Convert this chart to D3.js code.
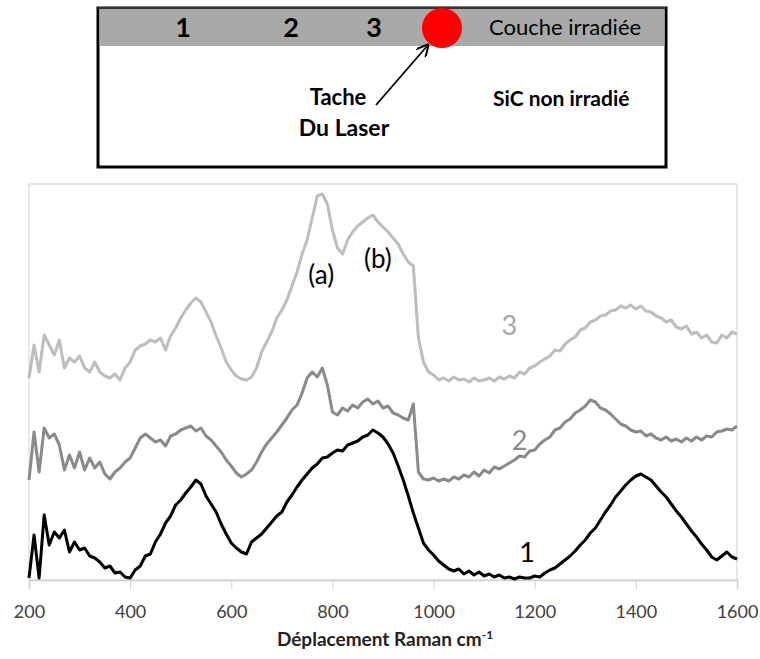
<!DOCTYPE html>
<html>
<head>
<meta charset="utf-8">
<script src="https://cdn.jsdelivr.net/npm/d3@7"></script>
<style>
  body { margin: 0; background: #fff; }
  svg { font-family: Lato, "Open Sans", sans-serif; }
</style>
</head>
<body>
<svg id="chart" width="760" height="659"></svg>
<script>
// Raman shift grid (cm-1), one point every 10 cm-1
const shift = d3.range(200, 1601, 10);
const xTicks = [200, 400, 600, 800, 1000, 1200, 1400, 1600];

// intensities (a.u., offset spectra as drawn)
const spec3 = [
  202,235,208,245,235,225,240,212,222,218,
  224,212,208,218,208,204,202,206,200,212,
  218,230,234,236,240,238,242,230,244,252,
  262,270,277,282,278,268,258,244,232,218,
  210,204,201,200,203,212,228,238,248,262,
  270,280,294,308,326,340,362,384,386,376,
  350,332,326,340,348,354,358,362,365,358,
  353,348,342,336,326,318,314,242,218,208,
  205,200,202,199,203,200,201,198,202,199,
  200,202,199,203,201,204,202,208,206,212,
  214,218,221,224,230,229,236,240,243,250,
  252,258,260,264,265,269,270,274,272,275,
  271,274,269,268,264,262,258,260,253,251,
  254,246,248,242,245,238,237,245,242,248,
  246
];
const spec2 = [
  100,148,108,152,142,146,135,110,125,112,
  128,110,122,112,118,106,101,108,112,118,
  122,132,142,146,142,138,140,134,144,146,
  150,152,154,149,152,144,140,134,128,120,
  114,107,103,106,110,118,128,136,142,148,
  155,162,170,175,187,202,208,203,212,195,
  168,165,172,169,175,172,178,181,176,179,
  172,174,167,165,162,160,176,108,101,100,
  102,99,101,99,103,101,105,103,108,104,
  110,107,113,111,114,117,120,124,123,129,
  130,136,140,143,150,152,158,161,167,170,
  174,180,178,172,170,166,161,156,154,150,
  148,149,144,146,142,140,143,139,141,138,
  142,139,143,140,144,143,148,149,151,150,
  154
];
const spec1 = [
  2,45,2,65,35,48,42,50,28,38,
  30,32,24,22,18,12,14,7,8,3,
  2,10,14,24,26,38,46,57,64,75,
  80,87,93,100,96,84,76,68,56,46,
  37,32,28,26,38,42,46,52,58,64,
  68,78,85,93,100,106,112,116,122,123,
  127,130,129,135,137,139,143,145,150,147,
  143,136,127,114,100,84,67,52,37,30,
  25,19,15,11,9,11,6,9,5,8,
  4,6,3,5,2,3,1,3,2,2,
  4,3,7,10,12,16,20,24,29,35,
  40,47,52,60,68,75,83,89,95,100,
  104,106,103,100,94,88,83,76,69,63,
  56,49,43,36,30,23,20,24,28,23,
  21
];

const series = [
  { name: "3", values: spec3, color: "#bdbdbd", label: [1150, 245], labelColor: "#a6a6a6" },
  { name: "2", values: spec2, color: "#8a8a8a", label: [1170, 130], labelColor: "#8a8a8a" },
  { name: "1", values: spec1, color: "#000000", label: [1185, 18], labelColor: "#000000" }
];
const peakLabels = [
  { text: "(a)", x: 778, y: 296 },
  { text: "(b)", x: 890, y: 312 }
];

const svg = d3.select("#chart");

// ---- schematic of the sample (top box)
const box = svg.append("g");
box.append("rect").attr("x", 98).attr("y", 8).attr("width", 568).attr("height", 159)
  .attr("fill", "#fff").attr("stroke", "#000").attr("stroke-width", 3);
box.append("rect").attr("x", 99.5).attr("y", 9).attr("width", 565).attr("height", 37)
  .attr("fill", "#a9a9a9");
box.append("line").attr("x1", 98).attr("x2", 666).attr("y1", 8).attr("y2", 8)
  .attr("stroke", "#333").attr("stroke-width", 2);

[["1", 183], ["2", 291], ["3", 374]].forEach(d => {
  box.append("text").attr("x", d[1]).attr("y", 37).attr("text-anchor", "middle")
    .style("font-size", "27px").style("font-weight", "bold").text(d[0]);
});
box.append("text").attr("x", 489).attr("y", 35).style("font-size", "22px").text("Couche irradiée");

box.append("circle").attr("cx", 442).attr("cy", 28).attr("r", 20).attr("fill", "#ff0000");

svg.append("defs").append("marker").attr("id", "arrow")
  .attr("viewBox", "0 0 10 10").attr("refX", 9).attr("refY", 5)
  .attr("markerWidth", 7).attr("markerHeight", 7).attr("orient", "auto")
  .append("path").attr("d", "M0,0 L10,5 L0,10").attr("fill", "none").attr("stroke", "#000").attr("stroke-width", 1.6);
box.append("line").attr("x1", 376).attr("y1", 105).attr("x2", 428).attr("y2", 45)
  .attr("stroke", "#000").attr("stroke-width", 1.8).attr("marker-end", "url(#arrow)");

box.append("text").attr("x", 338).attr("y", 105).attr("text-anchor", "middle")
  .style("font-size", "22px").style("font-weight", "bold").text("Tache");
box.append("text").attr("x", 344).attr("y", 136).attr("text-anchor", "middle")
  .style("font-size", "23px").style("font-weight", "bold").text("Du Laser");
box.append("text").attr("x", 493).attr("y", 106)
  .style("font-size", "21px").style("font-weight", "bold").text("SiC non irradié");

// ---- spectra
const margin = { left: 29, right: 23, top: 184, bottom: 79 };
const width = 760 - margin.left - margin.right,
      height = 659 - margin.top - margin.bottom;

const x = d3.scaleLinear().domain([200, 1600]).range([0, width]);
const y = d3.scaleLinear().domain([0, 396]).range([height, 0]);

const g = svg.append("g").attr("transform", `translate(${margin.left},${margin.top})`);

g.append("rect").attr("width", width).attr("height", height)
  .attr("fill", "none").attr("stroke", "#d9d9d9").attr("stroke-width", 1.2);

const xAxis = g.append("g").attr("transform", `translate(0,${height})`)
  .call(d3.axisBottom(x).tickValues(xTicks).tickSize(9).tickPadding(16).tickFormat(d3.format("d")));
xAxis.select(".domain").attr("stroke", "#cfcfcf").attr("stroke-width", 1.5);
xAxis.selectAll(".tick line").attr("stroke", "#cfcfcf");
xAxis.selectAll(".tick text").style("font-size", "18px").style("fill", "#404040")
  .style("font-family", "Lato, sans-serif");

const line = d3.line().x((d, i) => x(shift[i])).y(d => y(d));

series.forEach(s => {
  g.append("path").datum(s.values)
    .attr("fill", "none").attr("stroke", s.color).attr("stroke-width", 3)
    .attr("stroke-linejoin", "round").attr("d", line);
  g.append("text").attr("x", x(s.label[0])).attr("y", y(s.label[1]))
    .attr("text-anchor", "middle").style("font-size", "27px").style("fill", s.labelColor)
    .text(s.name);
});

peakLabels.forEach(p => {
  g.append("text").attr("x", x(p.x)).attr("y", y(p.y)).attr("text-anchor", "middle")
    .style("font-size", "26px").style("fill", "#000").text(p.text);
});

// axis title
const title = svg.append("text").attr("x", 385).attr("y", 646).attr("text-anchor", "middle")
  .style("font-size", "19px").style("font-weight", "bold").style("fill", "#222");
title.append("tspan").text("Déplacement Raman cm");
title.append("tspan").attr("dy", -7).style("font-size", "12px").text("-1");
</script>
</body>
</html>
